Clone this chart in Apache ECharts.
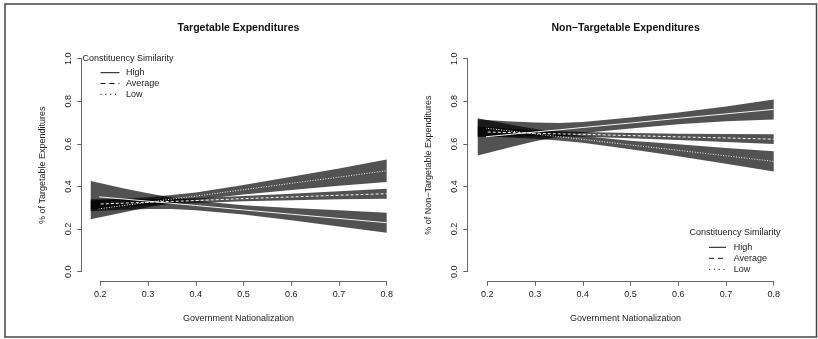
<!DOCTYPE html>
<html>
<head>
<meta charset="utf-8">
<script src="https://cdn.jsdelivr.net/npm/echarts@6/dist/echarts.min.js"></script>
<style>
html,body{margin:0;padding:0;background:#fff;}
#chart{width:818px;height:339px;}
</style>
</head>
<body>
<div id="chart"></div>
<script>
// ---- data ----
var xs = [0.18, 0.25, 0.3, 0.35, 0.4, 0.5, 0.6, 0.7, 0.8];
var xTicks = [0.2, 0.3, 0.4, 0.5, 0.6, 0.7, 0.8];
var yTicks = [0.0, 0.2, 0.4, 0.6, 0.8, 1.0];
var groups = ['High', 'Average', 'Low'];
var panelTitles = ['Targetable Expenditures', 'Non\u2212Targetable Expenditures'];
var yTitles = ['% of Targetable Expenditures', '% of Non\u2212Targetable Expenditures'];
var xTitle = 'Government Nationalization';
var legendTitle = 'Constituency Similarity';

// Targetable
var T_high    = [0.355,0.341,0.331,0.321,0.311,0.290,0.270,0.250,0.230];
var T_high_lo = [0.284,0.291,0.294,0.294,0.289,0.268,0.241,0.212,0.183];
var T_high_hi = [0.426,0.391,0.368,0.348,0.333,0.312,0.299,0.288,0.277];
var T_avg     = [0.316,0.322,0.326,0.330,0.334,0.343,0.351,0.359,0.366];
var T_avg_lo  = [0.292,0.304,0.312,0.318,0.323,0.331,0.336,0.340,0.342];
var T_avg_hi  = [0.340,0.340,0.340,0.342,0.345,0.355,0.366,0.378,0.390];
var T_low     = [0.290,0.311,0.326,0.341,0.355,0.385,0.415,0.444,0.474];
var T_low_lo  = [0.246,0.279,0.302,0.322,0.338,0.363,0.384,0.403,0.421];
var T_low_hi  = [0.334,0.343,0.350,0.360,0.372,0.407,0.446,0.485,0.527];

// Non-Targetable
var N_high    = [0.630,0.645,0.656,0.666,0.677,0.698,0.720,0.741,0.762];
var N_high_lo = [0.545,0.585,0.612,0.634,0.651,0.672,0.692,0.706,0.715];
var N_high_hi = [0.715,0.705,0.700,0.698,0.703,0.724,0.748,0.776,0.809];
var N_avg     = [0.657,0.653,0.650,0.647,0.645,0.639,0.633,0.628,0.622];
var N_avg_lo  = [0.632,0.635,0.636,0.635,0.634,0.627,0.618,0.609,0.599];
var N_avg_hi  = [0.682,0.671,0.664,0.659,0.656,0.651,0.648,0.647,0.645];
var N_low     = [0.678,0.660,0.647,0.634,0.621,0.595,0.570,0.544,0.518];
var N_low_lo  = [0.636,0.630,0.624,0.616,0.605,0.575,0.542,0.507,0.471];
var N_low_hi  = [0.720,0.690,0.670,0.652,0.637,0.615,0.598,0.581,0.565];

// ---- build ----
var FONT = '"Liberation Sans", Arial, Helvetica, sans-serif';
var TXT = '#222';
var AX = '#666';
var lineTypes = ['solid', [3, 2], [1, 1.6]];
var legendTypes = ['solid', [5, 4], [1.2, 3.6]];

var panels = [
  {lines:[T_high,T_avg,T_low], lo:[T_high_lo,T_avg_lo,T_low_lo], hi:[T_high_hi,T_avg_hi,T_low_hi]},
  {lines:[N_high,N_avg,N_low], lo:[N_high_lo,N_avg_lo,N_low_lo], hi:[N_high_hi,N_avg_hi,N_low_hi]}
];

var gridLefts = [100.3, 487.3];
var grids = [], xAxes = [], yAxes = [], series = [];

panels.forEach(function(p, k){
  grids.push({left: gridLefts[k], top: 58.7, width: 286.4, height: 213, containLabel: false});
  xAxes.push({
    type: 'value', gridIndex: k, min: xTicks[0], max: xTicks[xTicks.length-1], interval: 0.1,
    offset: 10,
    axisLine: {show: true, onZero: false, lineStyle: {color: AX, width: 1}},
    axisTick: {show: true, length: 4, lineStyle: {color: AX}},
    splitLine: {show: false},
    axisLabel: {fontFamily: FONT, fontSize: 9, color: TXT, margin: 8,
      formatter: function(v){ return v.toFixed(1); }}
  });
  yAxes.push({
    type: 'value', gridIndex: k, min: yTicks[0], max: yTicks[yTicks.length-1], interval: 0.2,
    offset: k === 0 ? 19 : 20,
    name: yTitles[k], nameLocation: 'middle', nameRotate: 90, nameGap: 34,
    nameTextStyle: {fontFamily: FONT, fontSize: 9, color: TXT},
    axisLine: {show: true, onZero: false, lineStyle: {color: AX, width: 1}},
    axisTick: {show: true, length: 4, lineStyle: {color: AX}},
    splitLine: {show: false},
    axisLabel: {fontFamily: FONT, fontSize: 9, color: TXT, rotate: 90, margin: 8,
      formatter: function(v){ return v.toFixed(1); }}
  });
  // bands
  for (var g = 0; g < 3; g++) {
    (function(lo, hi){
      series.push({
        type: 'custom', xAxisIndex: k, yAxisIndex: k, clip: false, z: 2, silent: true,
        data: [[xs[0], lo[0]]],
        renderItem: function(params, api){
          var pts = [];
          for (var i = 0; i < xs.length; i++) pts.push(api.coord([xs[i], hi[i]]));
          for (var j = xs.length - 1; j >= 0; j--) pts.push(api.coord([xs[j], lo[j]]));
          return {type: 'polygon', shape: {points: pts}, style: {fill: 'rgba(0,0,0,0.68)', stroke: null}};
        }
      });
    })(p.lo[g], p.hi[g]);
  }
  // center lines
  for (var g2 = 0; g2 < 3; g2++) {
    series.push({
      type: 'line', xAxisIndex: k, yAxisIndex: k, clip: false, z: 5, silent: true,
      name: groups[g2], symbol: 'none', animation: false,
      data: xs.map(function(x, i){ return [x, p.lines[g2][i]]; }),
      lineStyle: {color: '#f4f4f4', width: 1, type: lineTypes[g2]}
    });
  }
});

// texts & legend
var graphics = [];
graphics.push({type: 'rect', shape: {x: 5, y: 4, width: 811.5, height: 333}, style: {fill: null, stroke: '#444', lineWidth: 1.5}, silent: true});
var centers = [238.5, 625.6];
centers.forEach(function(cx, k){
  graphics.push({type: 'text', x: cx, y: 28, style: {text: panelTitles[k], font: 'bold 10.5px ' + FONT, fill: '#111', align: 'center', verticalAlign: 'middle'}});
  graphics.push({type: 'text', x: cx, y: 319, style: {text: xTitle, font: '9px ' + FONT, fill: TXT, align: 'center', verticalAlign: 'middle'}});
});
function addLegend(tx, ty, lx0, lx1, labx, ys){
  graphics.push({type: 'text', x: tx, y: ty, style: {text: legendTitle, font: '9px ' + FONT, fill: TXT, align: 'left', verticalAlign: 'middle'}});
  groups.forEach(function(gname, i){
    graphics.push({type: 'line', shape: {x1: lx0, y1: ys[i], x2: lx1, y2: ys[i]}, style: {stroke: '#111', lineWidth: 1, lineDash: legendTypes[i] === 'solid' ? null : legendTypes[i]}});
    graphics.push({type: 'text', x: labx, y: ys[i], style: {text: gname, font: '9px ' + FONT, fill: TXT, align: 'left', verticalAlign: 'middle'}});
  });
}
addLegend(82.5, 58.5, 100.5, 119.5, 126, [72.7, 83.5, 94.3]);
addLegend(689.5, 232.7, 709, 726, 733.7, [247.3, 258.3, 269.3]);

var chart = echarts.init(document.getElementById('chart'), null, {renderer: 'canvas'});
chart.setOption({
  animation: false,
  backgroundColor: '#fff',
  grid: grids,
  xAxis: xAxes,
  yAxis: yAxes,
  series: series,
  graphic: graphics
});
</script>
</body>
</html>
